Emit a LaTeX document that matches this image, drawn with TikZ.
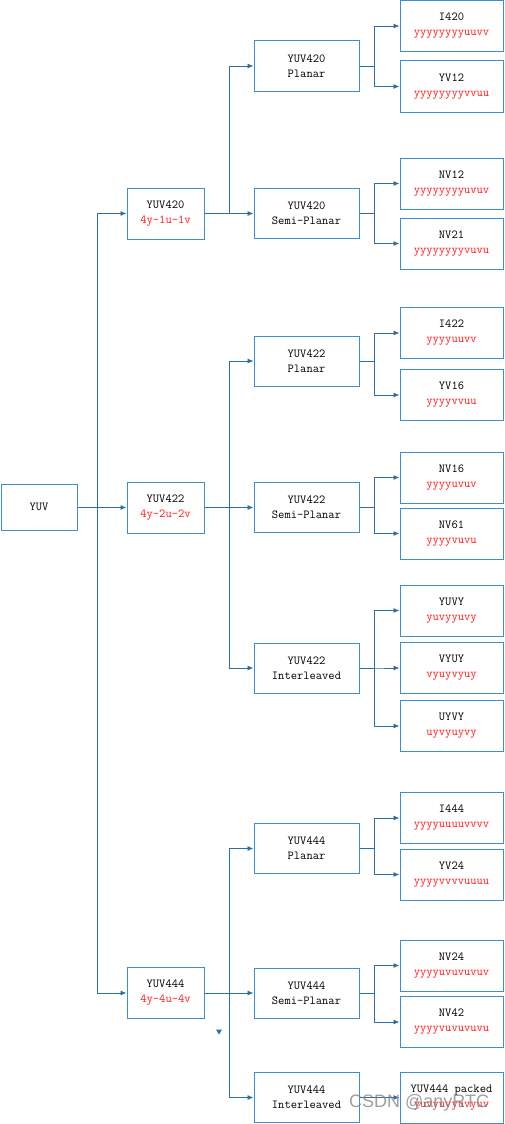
\documentclass[tikz,border=0pt]{standalone}
\usepackage{fontspec}
\setsansfont{Liberation Sans}
\usetikzlibrary{arrows.meta}
\definecolor{boxblue}{HTML}{3C8FD2}
\definecolor{lineblue}{HTML}{2A6FA8}
\definecolor{txtred}{HTML}{FF1A1A}
\newcommand{\rd}[1]{\textcolor{txtred}{#1}}
\tikzset{
  basebox/.style={draw=boxblue, line width=1pt, fill=white, inner sep=0pt, align=center,
    font=\ttfamily\fontsize{12.2}{15}\selectfont},
  rootbox/.style={basebox, minimum width=76pt, minimum height=46pt},
  midbox/.style={basebox, minimum width=77pt, minimum height=51pt},
  fmtbox/.style={basebox, minimum width=105pt, minimum height=50pt},
  leafbox/.style={basebox, minimum width=103pt, minimum height=51pt},
  arr/.style={draw=lineblue, line width=0.9pt, -{Latex[length=6pt,width=5pt]}}
}
\begin{document}
\begin{tikzpicture}[x=1pt,y=-1pt]
\useasboundingbox (0,0) rectangle (504,1124);
\fill[white] (0,0) rectangle (504,1124);
% root
\node[rootbox] (yuv) at (39,507) {YUV};
% mid column
\node[midbox] (m420) at (165.5,213.5) {YUV420\\\rd{4y-1u-1v}};
\node[midbox] (m422) at (165.5,507.5) {YUV422\\\rd{4y-2u-2v}};
\node[midbox] (m444) at (165.5,993) {YUV444\\\rd{4y-4u-4v}};
% format column
\node[fmtbox] (p420) at (306.5,66) {YUV420\\Planar};
\node[fmtbox] (s420) at (306.5,213.5) {YUV420\\Semi-Planar};
\node[fmtbox] (p422) at (306.5,361) {YUV422\\Planar};
\node[fmtbox] (s422) at (306.5,507.5) {YUV422\\Semi-Planar};
\node[fmtbox] (i422) at (306.5,668) {YUV422\\Interleaved};
\node[fmtbox] (p444) at (306.5,848.5) {YUV444\\Planar};
\node[fmtbox] (s444) at (306.5,993) {YUV444\\Semi-Planar};
\node[fmtbox] (i444) at (306.5,1097.5) {YUV444\\Interleaved};
% leaves
\node[leafbox] (lI420) at (451.5,26) {I420\\\rd{yyyyyyyyuuvv}};
\node[leafbox] (lYV12) at (451.5,86.5) {YV12\\\rd{yyyyyyyyvvuu}};
\node[leafbox] (lNV12) at (451.5,183.5) {NV12\\\rd{yyyyyyyyuvuv}};
\node[leafbox] (lNV21) at (451.5,243.5) {NV21\\\rd{yyyyyyyyvuvu}};
\node[leafbox] (lI422) at (451.5,333) {I422\\\rd{yyyyuuvv}};
\node[leafbox] (lYV16) at (451.5,395) {YV16\\\rd{yyyyvvuu}};
\node[leafbox] (lNV16) at (451.5,477.5) {NV16\\\rd{yyyyuvuv}};
\node[leafbox] (lNV61) at (451.5,533.5) {NV61\\\rd{yyyyvuvu}};
\node[leafbox] (lYUVY) at (451.5,610.5) {YUVY\\\rd{yuvyyuvy}};
\node[leafbox] (lVYUY) at (451.5,668) {VYUY\\\rd{vyuyvyuy}};
\node[leafbox] (lUYVY) at (451.5,726) {UYVY\\\rd{uyvyuyvy}};
\node[leafbox] (lI444) at (451.5,818) {I444\\\rd{yyyyuuuuvvvv}};
\node[leafbox] (lYV24) at (451.5,874.5) {YV24\\\rd{yyyyvvvvuuuu}};
\node[leafbox] (lNV24) at (451.5,965.5) {NV24\\\rd{yyyyuvuvuvuv}};
\node[leafbox] (lNV42) at (451.5,1022) {NV42\\\rd{yyyyvuvuvuvu}};
\node[leafbox] (lpk) at (451.5,1097.5) {YUV444 packed\\\rd{yuvyuvyuvyuv}};
% root connectors
\foreach \t in {m420,m422,m444} \draw[arr] (yuv.east) -- ++(20,0) |- (\t.west);
% mid connectors
\foreach \t in {p420,s420} \draw[arr] (m420.east) -- ++(24.5,0) |- (\t.west);
\foreach \t in {p422,s422,i422} \draw[arr] (m422.east) -- ++(24.5,0) |- (\t.west);
\foreach \t in {p444,s444,i444} \draw[arr] (m444.east) -- ++(24.5,0) |- (\t.west);
% leaf connectors
\foreach \t in {lI420,lYV12} \draw[arr] (p420.east) -- ++(15,0) |- (\t.west);
\foreach \t in {lNV12,lNV21} \draw[arr] (s420.east) -- ++(15,0) |- (\t.west);
\foreach \t in {lI422,lYV16} \draw[arr] (p422.east) -- ++(15,0) |- (\t.west);
\foreach \t in {lNV16,lNV61} \draw[arr] (s422.east) -- ++(15,0) |- (\t.west);
\foreach \t in {lYUVY,lVYUY,lUYVY} \draw[arr] (i422.east) -- ++(15,0) |- (\t.west);
\foreach \t in {lI444,lYV24} \draw[arr] (p444.east) -- ++(15,0) |- (\t.west);
\foreach \t in {lNV24,lNV42} \draw[arr] (s444.east) -- ++(15,0) |- (\t.west);
\draw[arr] (i444.east) -- (lpk.west);
% stray arrowhead
\fill[lineblue] (216,1029.5) -- (222,1029.5) -- (219,1034.5) -- cycle;
% watermark
\node[font=\sffamily\fontsize{18}{18}\selectfont, text=gray, opacity=0.75, anchor=west, inner sep=0pt] (wm) at (349,1103) {CSDN @anyRTC};
\end{tikzpicture}
\end{document}
